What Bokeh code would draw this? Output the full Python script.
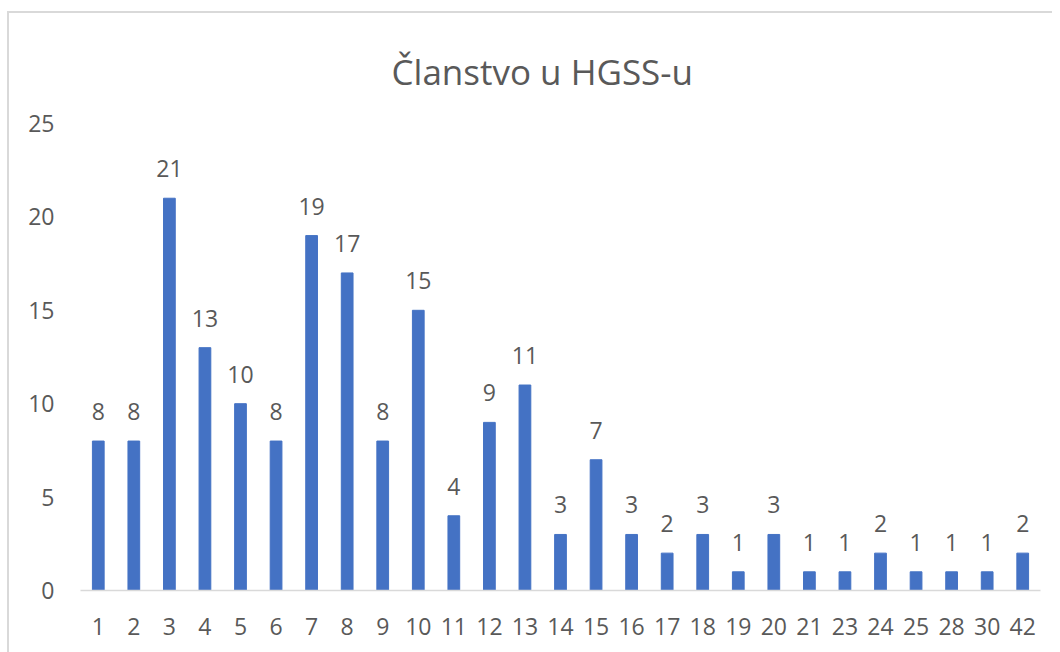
from bokeh.plotting import figure
from bokeh.models import ColumnDataSource, Range1d, FixedTicker, LabelSet
from bokeh.core.properties import value
from bokeh.embed import file_html
from bokeh.resources import INLINE

categories = ["1", "2", "3", "4", "5", "6", "7", "8", "9", "10", "11", "12", "13", "14", "15",
              "16", "17", "18", "19", "20", "21", "23", "24", "25", "28", "30", "42"]
values = [8, 8, 21, 13, 10, 8, 19, 17, 8, 15, 4, 9, 11, 3, 7,
          3, 2, 3, 1, 3, 1, 1, 2, 1, 1, 1, 2]
y_ticks = [0, 5, 10, 15, 20, 25]
title_text = "Članstvo u HGSS-u"

FONT = "Open Sans"
TXT = "#595959"

src = ColumnDataSource(dict(cat=categories, val=values, lab=[str(v) for v in values]))

p = figure(x_range=categories, y_range=Range1d(0, 25),
           width=1045, height=641, output_backend="svg", toolbar_location=None,
           min_border_left=71, min_border_right=14, min_border_top=110, min_border_bottom=64)
p.margin = (11, 0, 0, 7)
p.styles = {"border-left": "2px solid #d9d9d9", "border-top": "2px solid #d9d9d9",
            "box-sizing": "border-box"}
p.outline_line_color = None
p.background_fill_color = "white"
p.border_fill_color = "white"

p.vbar(x="cat", top="val", width=0.33, source=src, color="#4472C4")

labels = LabelSet(x="cat", y="val", text="lab", source=src, text_align="center",
                  text_baseline="alphabetic", y_offset=21,
                  text_font=value(FONT), text_font_size=value("23px"), text_color=value(TXT))
p.add_layout(labels)

p.xgrid.visible = False
p.ygrid.visible = False

p.yaxis.ticker = FixedTicker(ticks=y_ticks)
p.yaxis.axis_line_color = None
p.yaxis.major_tick_line_color = None
p.yaxis.minor_tick_line_color = None
p.yaxis.major_label_text_font = FONT
p.yaxis.major_label_text_font_size = "23px"
p.yaxis.major_label_text_color = TXT
p.yaxis.major_label_standoff = 20

p.xaxis.axis_line_color = "#d9d9d9"
p.xaxis.axis_line_width = 1.5
p.xaxis.major_tick_line_color = None
p.xaxis.minor_tick_line_color = None
p.xaxis.major_label_text_font = FONT
p.xaxis.major_label_text_font_size = "23px"
p.xaxis.major_label_text_color = TXT
p.xaxis.major_label_standoff = 21

p.title.text = title_text
p.title.align = "left"
p.title.vertical_align = "middle"
p.title.text_font = FONT
p.title.text_font_size = "35px"
p.title.text_font_style = "normal"
p.title.text_color = TXT
p.title.offset = 311
p.title.standoff = 56

open("out.html", "w").write(file_html(p, INLINE))
